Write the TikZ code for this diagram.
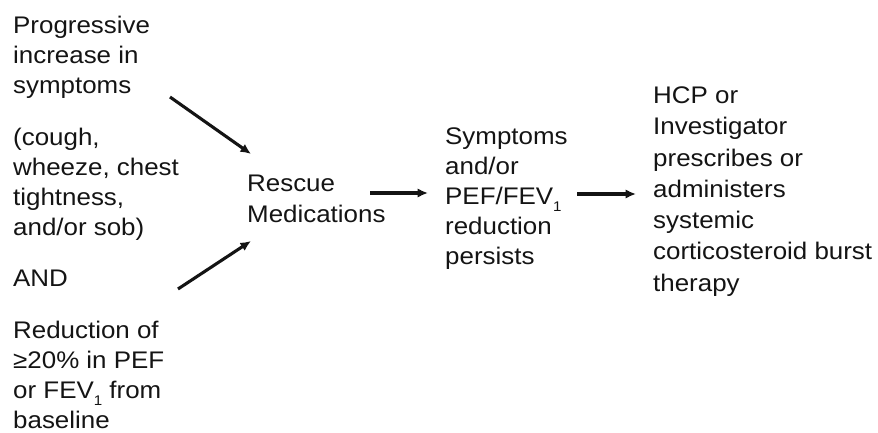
\documentclass[tikz,border=0pt]{standalone}
\usepackage{fontspec}
\setmainfont[FakeStretch=1.08]{Liberation Sans}
\usetikzlibrary{arrows.meta}
\newcommand{\lowone}{\raisebox{-0.28em}{\fontsize{14}{14}\selectfont 1}}
\begin{document}
\begin{tikzpicture}[x=1pt,y=-1pt,
  txt/.style={anchor=north west,inner sep=0pt,align=left,font=\fontsize{24}{30}\selectfont,text=black!92},
  arr/.style={line width=3.1pt,-{Latex[length=10.5pt,width=9.5pt]},black!92}]
\useasboundingbox (0,0) rectangle (878,433);
\node[txt] (prog) at (13,15.8) {Progressive\\increase in\\symptoms};
\node[txt] (cough) at (13,127.5) {(cough,\\wheeze, chest\\tightness,\\and/or sob)};
\node[txt] (and) at (13,269.8) {AND};
\node[txt] (red) at (13,320.8) {Reduction of\\≥20\% in PEF\\or FEV\lowone{} from\\baseline};
\node[txt,font=\fontsize{24}{31}\selectfont] (rescue) at (247,174.8) {Rescue\\Medications};
\node[txt] (persist) at (445,127.5) {Symptoms\\and/or\\PEF/FEV\lowone\\reduction\\persists};
\node[txt,font=\fontsize{24}{31.3}\selectfont] (hcp) at (653,86.5) {HCP or\\Investigator\\prescribes or\\administers\\systemic\\corticosteroid burst\\therapy};
\coordinate (a1s) at (170,97);
\coordinate (a1e) at (251,154);
\coordinate (a2s) at (178,289);
\coordinate (a2e) at (251,241);
\coordinate (a3s) at (370,193);
\coordinate (a3e) at (428,193);
\coordinate (a4s) at (577,194);
\coordinate (a4e) at (636,194);
\draw[arr] (a1s) -- (a1e);
\draw[arr] (a2s) -- (a2e);
\draw[arr] (a3s) -- (a3e);
\draw[arr] (a4s) -- (a4e);
\end{tikzpicture}
\end{document}
